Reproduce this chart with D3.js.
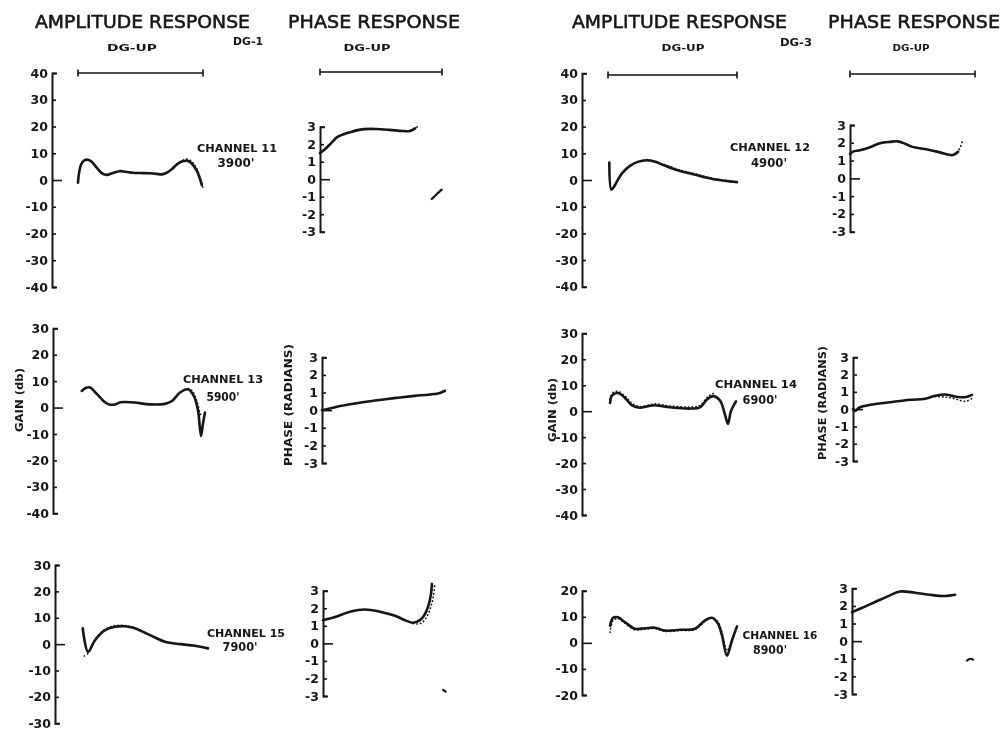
<!DOCTYPE html>
<html>
<head>
<meta charset="utf-8">
<script src="https://cdn.jsdelivr.net/npm/d3@7"></script>
<style>
  body { margin: 0; background: #fff; }
  svg { display: block; }
</style>
</head>
<body>
<svg id="chart" width="1006" height="730"></svg>
<script>
// ---- text ----
const sectionTitles = ["AMPLITUDE RESPONSE", "PHASE RESPONSE"];
const bandLabel = "DG-UP";
const groupLabels = ["DG-1", "DG-3"];
const channelNames = ["CHANNEL 11", "CHANNEL 12", "CHANNEL 13", "CHANNEL 14", "CHANNEL 15", "CHANNEL 16"];
const channelDepths = ["3900'", "4900'", "5900'", "6900'", "7900'", "8900'"];
const gainAxisTitle = "GAIN (db)";
const phaseAxisTitle = "PHASE (RADIANS)";

// ---- tick values ----
const gainTicks40 = [40, 30, 20, 10, 0, -10, -20, -30, -40];
const gainTicks30 = [30, 20, 10, 0, -10, -20, -30, -40];
const gainTicks30s = [30, 20, 10, 0, -10, -20, -30];
const gainTicks20 = [20, 10, 0, -10, -20];
const phaseTicks = [3, 2, 1, 0, -1, -2, -3];

// band edges (frequency in % of DG-UP band)
const bandEdges = [0, 100];

// ---- measured responses: [frequency % of band, value] ----
// gain in dB, phase in radians; "Dots" = second (dotted) trace
const ch11Gain = [[0,-1],[0.8,2.5],[2.5,5.8],[5,7.3],[8,7.6],[11,6.8],[15,4.6],[19,2.6],[23,1.9],[28,2.6],[33,3.3],[38,3.1],[44,2.7],[50,2.6],[57,2.5],[63,2.3],[67,2.1],[71,2.7],[75,4.0],[79,5.8],[83,6.9],[87,7.2],[90,6.6],[93,5.0],[95.5,3.0],[97.5,0.5],[99,-1.8]];
const ch11GainDots = [[79,6.0],[83,7.2],[87,7.8],[90,7.3],[93,5.8],[95.5,3.8],[97.5,1.2],[99,-1.0],[100,-3.0]];
const ch11Phase = [[0,1.49],[4,1.71],[9,2.05],[14,2.4],[20,2.58],[25,2.69],[30,2.79],[36,2.86],[46,2.87],[57,2.82],[68,2.75],[74,2.76],[78,2.9]];
const ch11PhaseDots = [[74,2.78],[78,2.93],[82,3.06]];
const ch11PhaseWrap = [[91.6,-1.13],[95,-0.9],[99.8,-0.6]];

const ch12Gain = [[1,6.5],[2.6,-3.6],[4.5,-2.6],[7,-0.5],[11,2.6],[17,5.3],[23,6.8],[30,7.4],[36,6.9],[43,5.6],[50,4.3],[56,3.4],[64,2.4],[70,1.7],[76,0.9],[82,0.3],[89,-0.2],[96,-0.6],[100,-0.8]];
const ch12GainDots = [[30,7.7],[43,5.9],[56,3.7],[70,2.0],[82,0.5],[96,-0.4]];
const ch12Phase = [[0,1.37],[2.4,1.5],[8,1.58],[16,1.75],[24,1.97],[32,2.05],[38,2.08],[44,1.95],[50,1.77],[60,1.65],[72,1.46],[79,1.33],[83,1.33],[86.5,1.5]];
const ch12PhaseDots = [[83,1.35],[86.5,1.55],[88.5,1.8],[90,2.1]];

const ch13Gain = [[3,6.3],[6.4,7.5],[9.6,7.6],[15,5.2],[21.6,2.0],[25.6,1.1],[29.6,1.2],[34,2.0],[38,2.1],[45.6,1.9],[57.6,1.2],[69.6,1.4],[75.2,2.5],[81.6,5.7],[88,6.9],[92.8,4.2],[96,-1.0],[98.4,-10.7],[100,-6],[101.6,-1.9]];
const ch13GainDots = [[88,7.2],[91,6.5],[94,4.0],[96,1.0],[98,-2.5],[100,-3.2]];
const ch13Phase = [[0,0],[8,0.12],[14.8,0.23],[27,0.38],[39.3,0.51],[52,0.62],[63.9,0.72],[76,0.81],[88.5,0.89],[96.7,0.98],[100.8,1.1]];

const ch14Gain = [[1.6,3.2],[2.5,5.6],[3.9,6.4],[7.8,7.0],[13.2,5.1],[18.6,2.2],[24.8,1.3],[30,1.8],[36.4,2.3],[42,1.9],[48.1,1.5],[55,1.2],[63.6,1.0],[71.3,1.5],[76.7,4.5],[81.4,5.8],[86.8,4.1],[90.7,-1.3],[93,-4.9],[95.3,0],[99.2,3.8]];
const ch14GainDots = [[1.6,4.5],[3.9,7.2],[7.8,7.6],[13.2,5.8],[18.6,3.0],[24.8,1.8],[36.4,2.8],[48.1,2.0],[63.6,1.6],[71.3,2.2],[76.7,5.2],[81.4,6.8],[84,6.5]];
const ch14Phase = [[0,0],[1.6,-0.1],[5.6,0.11],[13.6,0.25],[29.6,0.4],[45.6,0.54],[57.6,0.6],[65.6,0.77],[73.6,0.85],[81.6,0.73],[89.6,0.69],[95.2,0.83]];
const ch14PhaseDots = [[65.6,0.72],[73.6,0.7],[81.6,0.6],[89.6,0.45],[95.2,0.62]];

const ch15Gain = [[3.8,6],[8,-2.9],[13.6,1.5],[21.6,5.3],[29.6,6.6],[37.6,6.8],[45.6,6.0],[53.6,4.3],[61.6,2.5],[69.6,0.9],[81.6,0],[93.6,-0.6],[104,-1.6]];
const ch15GainDots = [[5,-4.5],[8,-3.5],[13.6,1.8],[21.6,5.6],[29.6,7.0],[37.6,7.0],[45.6,6.3]];
const ch15Phase = [[0,1.32],[9.8,1.5],[22.1,1.8],[34.4,1.93],[46.7,1.8],[59,1.57],[67.2,1.32],[73.8,1.17],[79.5,1.32],[83,1.6],[86.1,2.08],[88.5,2.8],[89.3,3.4]];
const ch15PhaseDots = [[73.8,1.12],[79.5,1.12],[84,1.4],[88,2.0],[90.5,2.7],[91.5,3.3]];
const ch15PhaseWrap = [[98.5,-2.65],[100.5,-2.75]];

const ch16Gain = [[1.6,6.6],[3.9,9.6],[7.8,9.8],[13.2,7.9],[20.9,5.4],[28.7,5.6],[36.4,5.8],[44.2,4.7],[55.8,5],[67.4,5.4],[75.2,8.6],[80.6,9.6],[85.3,7.3],[88.4,2.8],[92.2,-4.9],[96.1,0.9],[100,6.3]];
const ch16GainDots = [[1.6,4],[3.9,8.5],[7.8,9.3],[13.2,7.5],[20.9,5.0],[28.7,5.3],[36.4,5.5],[44.2,4.4],[55.8,4.7],[67.4,5.1],[75.2,8.3],[80.6,9.6],[85.3,8.0],[88.4,4.0],[92.2,-3.0],[96.1,1.5]];
const ch16Phase = [[0,1.65],[6.4,1.84],[18.4,2.22],[30.4,2.6],[38.4,2.82],[50.4,2.75],[62.4,2.63],[74.4,2.56],[82.4,2.63]];
const ch16PhaseWrap = [[92,-1.1],[94.5,-1.0],[97,-1.05]];

// ---- page layout ----
const ink = "#151515";
const FONT = "'DejaVu Sans', 'Liberation Sans', sans-serif";

const panels = [
  // top row
  { axisX: 52,  yTop: 73,    yBot: 287,   domain: [-40, 40], ticks: gainTicks40, xRange: [78, 203],  solid: ch11Gain,  dots: ch11GainDots,  bandY: 73, bandText: [132, 51, 50],
    channel: 0, chPos: [237, 152, 80, 236, 167, 37] },
  { axisX: 320, yTop: 126.7, yBot: 231.7, domain: [-3, 3],   ticks: phaseTicks,  xRange: [320, 442], solid: ch11Phase, dots: ch11PhaseDots, extra: ch11PhaseWrap, bandY: 72, bandText: [367, 51, 47] },
  { axisX: 582, yTop: 73.3,  yBot: 286.7, domain: [-40, 40], ticks: gainTicks40, xRange: [608, 737], solid: ch12Gain,  dots: ch12GainDots,  bandY: 75, bandText: [683, 51, 43],
    channel: 1, chPos: [770, 151, 80, 769, 167, 36] },
  { axisX: 850, yTop: 125,   yBot: 231.7, domain: [-3, 3],   ticks: phaseTicks,  xRange: [850, 975], solid: ch12Phase, dots: ch12PhaseDots, bandY: 74, bandText: [911, 51, 37] },
  // middle row
  { axisX: 53,  yTop: 328.3, yBot: 513.3, domain: [-40, 30], ticks: gainTicks30, xRange: [78, 203],  solid: ch13Gain,  dots: ch13GainDots,
    channel: 2, chPos: [223, 383, 80, 223, 401, 33] },
  { axisX: 322, yTop: 357.3, yBot: 463,   domain: [-3, 3],   ticks: phaseTicks,  xRange: [322, 444], solid: ch13Phase },
  { axisX: 582, yTop: 333.3, yBot: 515,   domain: [-40, 30], ticks: gainTicks30, xRange: [608, 737], solid: ch14Gain,  dots: ch14GainDots,
    channel: 3, chPos: [756, 388, 82, 760, 404, 35] },
  { axisX: 853, yTop: 357.3, yBot: 461,   domain: [-3, 3],   ticks: phaseTicks,  xRange: [853, 978], solid: ch14Phase, dots: ch14PhaseDots },
  // bottom row
  { axisX: 55,  yTop: 565,   yBot: 723.3, domain: [-30, 30], ticks: gainTicks30s, xRange: [78, 203], solid: ch15Gain,  dots: ch15GainDots,
    channel: 4, chPos: [246, 637, 78, 240, 651, 35] },
  { axisX: 323, yTop: 590.7, yBot: 696,   domain: [-3, 3],   ticks: phaseTicks,  xRange: [323, 445], solid: ch15Phase, dots: ch15PhaseDots, extra: ch15PhaseWrap },
  { axisX: 582, yTop: 590.7, yBot: 695,   domain: [-20, 20], ticks: gainTicks20, xRange: [608, 737], solid: ch16Gain,  dots: ch16GainDots,
    channel: 5, chPos: [780, 639, 75, 770, 654, 34] },
  { axisX: 852, yTop: 588.3, yBot: 694,   domain: [-3, 3],   ticks: phaseTicks,  xRange: [852, 977], solid: ch16Phase, extra: ch16PhaseWrap }
];

const svg = d3.select("#chart");
const defs = svg.append("defs");
defs.append("filter").attr("id", "soft")
  .append("feGaussianBlur").attr("stdDeviation", 0.45);

const root = svg.append("g").attr("filter", "url(#soft)");

function fitText(g, str, x, y, len, size, weight, anchor) {
  return g.append("text")
    .attr("x", x).attr("y", y)
    .attr("font-family", FONT)
    .attr("font-size", size)
    .attr("font-weight", weight)
    .attr("text-anchor", anchor || "middle")
    .attr("textLength", len)
    .attr("lengthAdjust", "spacingAndGlyphs")
    .attr("fill", ink)
    .text(str);
}

// ---- headings ----
const headings = [
  [sectionTitles[0], 35, 215], [sectionTitles[1], 288, 172],
  [sectionTitles[0], 572, 215], [sectionTitles[1], 828, 172]
];
headings.forEach(([t, x, len]) =>
  fitText(root, t, x, 28, len, 18, "normal", "start")
    .attr("stroke", ink).attr("stroke-width", 0.55));
fitText(root, groupLabels[0], 248, 45, 30, 10, "bold");
fitText(root, groupLabels[1], 796, 46, 32, 10, "bold");

// ---- vertical axis titles ----
[[19, 400, gainAxisTitle, 64], [552, 410, gainAxisTitle, 64],
 [288, 405, phaseAxisTitle, 122], [822, 403, phaseAxisTitle, 114]].forEach(([x, y, t, len]) => {
  root.append("text")
    .attr("transform", `translate(${x},${y}) rotate(-90)`)
    .attr("font-family", FONT).attr("font-size", 11).attr("font-weight", "bold")
    .attr("text-anchor", "middle").attr("dominant-baseline", "central")
    .attr("textLength", len).attr("lengthAdjust", "spacingAndGlyphs")
    .attr("fill", ink).text(t);
});

// ---- panels ----
panels.forEach(p => {
  const x = d3.scaleLinear().domain(bandEdges).range(p.xRange);
  const y = d3.scaleLinear().domain(p.domain).range([p.yBot, p.yTop]);

  const axis = d3.axisLeft(y)
    .tickValues(p.ticks)
    .tickSizeInner(-4)
    .tickSizeOuter(-5)
    .tickPadding(4)
    .tickFormat(d => String(d));

  const ag = root.append("g")
    .attr("transform", `translate(${p.axisX},0)`)
    .call(axis)
    .attr("font-family", FONT)
    .attr("font-size", 12.5);
  ag.select(".domain").attr("stroke", ink).attr("stroke-width", 2);
  ag.selectAll(".tick line").attr("stroke", ink).attr("stroke-width", 1.6)
    .attr("x2", d => d === 0 ? 10 : 4);
  ag.selectAll(".tick text").attr("fill", ink).attr("font-weight", "bold");

  const line = d3.line()
    .x(d => x(d[0]))
    .y(d => y(d[1]))
    .curve(d3.curveCatmullRom.alpha(0.5));

  if (p.dots) {
    root.append("path").datum(p.dots)
      .attr("d", line).attr("fill", "none")
      .attr("stroke", ink).attr("stroke-width", 1.6)
      .attr("stroke-linecap", "round")
      .attr("stroke-dasharray", "0.5,3.2");
  }
  root.append("path").datum(p.solid)
    .attr("d", line).attr("fill", "none")
    .attr("stroke", ink).attr("stroke-width", 2.6)
    .attr("stroke-linejoin", "round").attr("stroke-linecap", "round");
  if (p.extra) {
    root.append("path").datum(p.extra)
      .attr("d", line).attr("fill", "none")
      .attr("stroke", ink).attr("stroke-width", 2.2)
      .attr("stroke-linecap", "round");
  }

  // DG-UP band bracket
  if (p.bandY !== undefined) {
    const bx0 = x(bandEdges[0]), bx1 = x(bandEdges[1]);
    const bg = root.append("g").attr("stroke", ink).attr("stroke-width", 1.6);
    bg.append("line").attr("x1", bx0).attr("x2", bx1).attr("y1", p.bandY).attr("y2", p.bandY);
    [bx0, bx1].forEach(bx => bg.append("line")
      .attr("x1", bx).attr("x2", bx).attr("y1", p.bandY - 3.5).attr("y2", p.bandY + 3.5));
    fitText(root, bandLabel, p.bandText[0], p.bandText[1], p.bandText[2], 9, "bold");
  }

  // channel / depth label
  if (p.channel !== undefined) {
    const c = p.chPos;
    fitText(root, channelNames[p.channel], c[0], c[1], c[2], 11, "bold");
    fitText(root, channelDepths[p.channel], c[3], c[4], c[5], 12, "bold");
  }
});
</script>
</body>
</html>
